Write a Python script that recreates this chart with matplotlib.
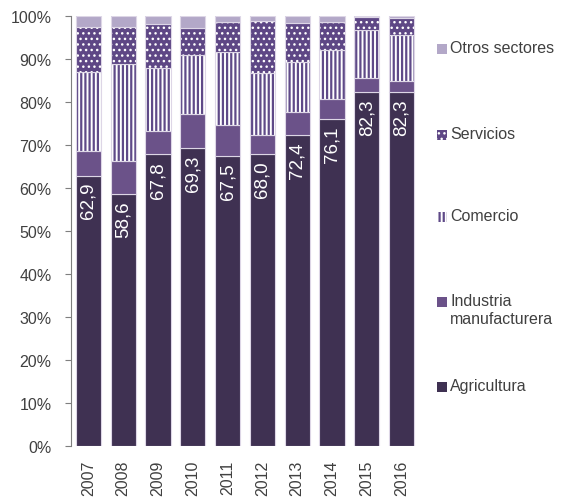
import numpy as np
import matplotlib
matplotlib.use("Agg")
import matplotlib.pyplot as plt
from matplotlib.patches import Rectangle

plt.rcParams['font.family'] = ['Liberation Sans', 'DejaVu Sans']

years = ['2007', '2008', '2009', '2010', '2011', '2012', '2013', '2014', '2015', '2016']
agricultura = [62.9, 58.6, 67.8, 69.3, 67.5, 68.0, 72.4, 76.1, 82.3, 82.3]
industria = [5.7, 7.7, 5.5, 8.0, 7.2, 4.3, 5.2, 4.7, 3.3, 2.7]
comercio = [18.4, 22.5, 14.6, 13.7, 16.9, 14.4, 11.6, 11.4, 11.2, 10.6]
servicios = [10.5, 8.7, 10.3, 6.2, 6.9, 12.1, 9.2, 6.3, 2.9, 3.9]
otros = [2.5, 2.5, 1.8, 2.8, 1.5, 1.2, 1.6, 1.5, 0.3, 0.5]

# name, values, face colour, hatch, hatch colour, hatch width
series = [
    ('Agricultura', agricultura, '#3f3152', None, '#3f3152', 1.0),
    ('Industria\nmanufacturera', industria, '#6b5289', None, '#6b5289', 1.0),
    ('Comercio', comercio, 'white', '||||', '#5f4a88', 1.6),
    ('Servicios', servicios, '#5e4785', '...', 'white', 1.0),
    ('Otros sectores', otros, '#b3a8c8', None, '#b3a8c8', 1.0),
]

fig = plt.figure(figsize=(5.64, 5.02), dpi=100)
ax = fig.add_axes([71 / 564, 55 / 502, 348 / 564, 430 / 502])

x = np.arange(len(years))
width = 0.72
bottom = np.zeros(len(years))
for name, vals, fc, hatch, hc, hlw in series:
    vals = np.array(vals)
    with plt.rc_context({'hatch.linewidth': hlw}):
        ax.bar(x, vals, width, bottom=bottom, color=fc, edgecolor=hc,
               hatch=hatch, linewidth=0)
    ax.bar(x, vals, width, bottom=bottom, fill=False,
           edgecolor='#ddd6e6', linewidth=0.8)
    bottom += vals

for xi, v in zip(x, agricultura):
    ax.text(xi, v - 1.5, f'{v:.1f}'.replace('.', ','), rotation=90,
            ha='center', va='top', color='white', fontsize=13.5)

ax.set_xlim(-0.5, len(years) - 0.5)
ax.set_ylim(0, 100)
ax.set_yticks(np.arange(0, 101, 10))
ax.set_yticklabels([f'{t}%' for t in range(0, 101, 10)])
ax.set_xticks(x)
ax.set_xticklabels(years, rotation=90)
for s in ['top', 'right', 'bottom']:
    ax.spines[s].set_visible(False)
ax.spines['left'].set_color('#7f7f7f')
ax.tick_params(axis='y', length=4, color='#7f7f7f', labelsize=11.5,
               labelcolor='#404040', pad=10)
ax.tick_params(axis='x', length=0, labelsize=11.5, labelcolor='#404040', pad=10)

# legend drawn by hand so entries keep an even pitch
legend_rows = [
    ('Otros sectores', 50),
    ('Servicios', 136),
    ('Comercio', 218),
    ('Industria\nmanufacturera', 303),
    ('Agricultura', 388),
]
style = {name: (fc, hatch, hc, hlw) for name, _, fc, hatch, hc, hlw in series}
for name, ypix in legend_rows:
    fc, hatch, hc, hlw = style[name]
    with plt.rc_context({'hatch.linewidth': hlw}):
        sq = Rectangle((437 / 564, 1 - (ypix + 5) / 502), 10 / 564, 10 / 502,
                       transform=fig.transFigure, facecolor=fc, edgecolor=hc,
                       hatch=hatch, linewidth=0)
    fig.patches.append(sq)
    fig.text(450 / 564, 1 - (ypix - 9) / 502, name, ha='left', va='top',
             fontsize=11.5, color='#404040', linespacing=1.25)

fig.savefig('out.png', dpi=100)
